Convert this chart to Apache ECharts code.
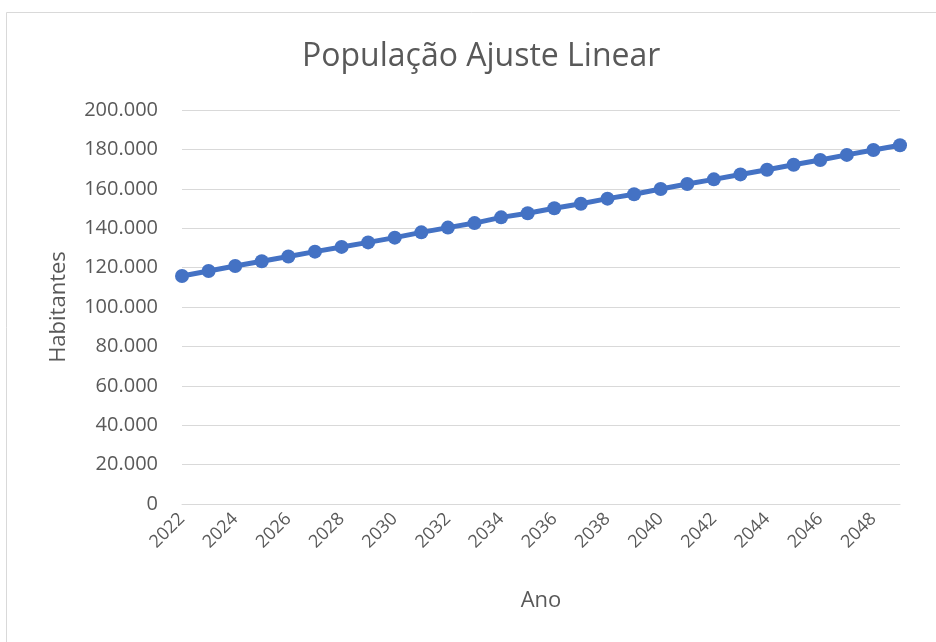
<!DOCTYPE html>
<html>
<head>
<meta charset="utf-8">
<script src="https://cdn.jsdelivr.net/npm/echarts@6/dist/echarts.min.js"></script>
<style>html,body{margin:0;padding:0;background:#fff}#c{width:936px;height:642px}</style>
</head>
<body>
<div id="c"></div>
<script>
const years = ['2022','2023','2024','2025','2026','2027','2028','2029','2030','2031','2032','2033','2034','2035','2036','2037','2038','2039','2040','2041','2042','2043','2044','2045','2046','2047','2048','2049'];
const population = [115700,118300,120800,123200,125600,128100,130500,132800,135200,137900,140300,142600,145500,147600,150100,152400,155000,157200,159900,162400,164800,167300,169700,172200,174600,177200,179700,182100];
const yTicks = {min: 0, max: 200000, interval: 20000};
const titleText = 'População Ajuste Linear';
const xName = 'Ano';
const yName = 'Habitantes';

const chart = echarts.init(document.getElementById('c'));
const font = '"Open Sans", sans-serif';
const fmt = v => v === 0 ? '0' : String(v).replace(/\B(?=(\d{3})+(?!\d))/g, '.');
chart.setOption({
  animation: false,
  backgroundColor: '#fff',
  graphic: [{type: 'rect', shape: {x: 6.5, y: 12.5, width: 940, height: 640}, style: {fill: 'none', stroke: '#d9d9d9', lineWidth: 1}, silent: true}],
  title: {text: titleText, left: 297, top: 36, textStyle: {fontFamily: font, fontSize: 32, fontWeight: 'normal', color: '#595959'}},
  grid: {left: 182, right: 36, top: 110, bottom: 138},
  xAxis: {
    type: 'category', data: years, boundaryGap: false,
    name: xName, nameLocation: 'middle', nameGap: 86,
    nameTextStyle: {fontFamily: font, fontSize: 22, color: '#595959'},
    axisLine: {show: true, lineStyle: {color: '#d9d9d9', width: 1}},
    axisTick: {show: false},
    axisLabel: {interval: 1, rotate: 45, margin: 12, fontFamily: font, fontSize: 18, color: '#595959'},
    splitLine: {show: false}
  },
  yAxis: {
    type: 'value', min: yTicks.min, max: yTicks.max, interval: yTicks.interval,
    name: yName, nameLocation: 'middle', nameGap: 112, nameRotate: 90,
    nameTextStyle: {fontFamily: font, fontSize: 22, color: '#595959'},
    axisLine: {show: false}, axisTick: {show: false},
    axisLabel: {formatter: fmt, margin: 24, fontFamily: font, fontSize: 20, color: '#595959'},
    splitLine: {lineStyle: {color: '#d9d9d9', width: 1}}
  },
  series: [{
    type: 'line', data: population,
    symbol: 'circle', symbolSize: 14,
    lineStyle: {color: '#4472C4', width: 5},
    itemStyle: {color: '#4472C4'}
  }]
});
</script>
</body>
</html>
